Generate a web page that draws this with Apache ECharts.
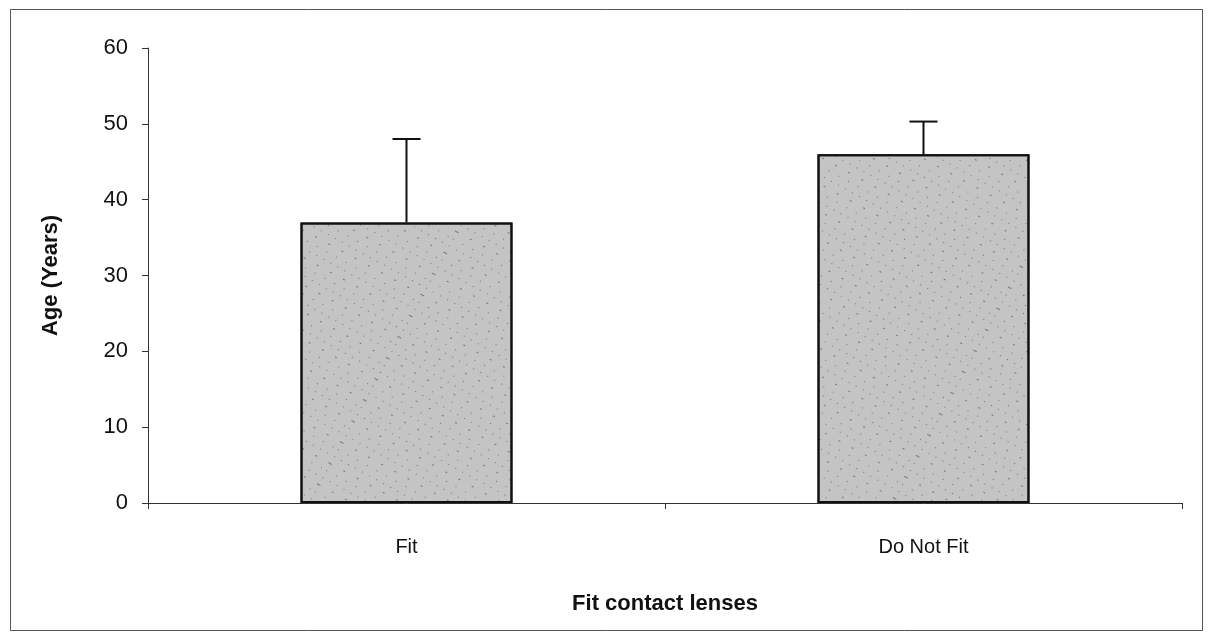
<!DOCTYPE html>
<html>
<head>
<meta charset="utf-8">
<script src="https://cdn.jsdelivr.net/npm/echarts@6/dist/echarts.min.js"></script>
<style>html,body{margin:0;padding:0;background:#fff;}#c{width:1210px;height:641px;}</style>
</head>
<body>
<div id="c"></div>
<script>
const categories = ['Fit', 'Do Not Fit'];
const meanAge = [37, 46];
const errorUp = [11, 4.3];
const yTicks = [0, 10, 20, 30, 40, 50, 60];

const chart = echarts.init(document.getElementById('c'));
const font = '"Liberation Sans", Arial, sans-serif';
const errData = categories.map((c, i) => [i, meanAge[i], meanAge[i] + errorUp[i]]);

chart.setOption({
  animation: false,
  backgroundColor: '#fff',
  graphic: [{
    type: 'rect', left: 8, top: 7, shape: {width: 1192, height: 621},
    style: {fill: 'none', stroke: '#555', lineWidth: 1}, silent: true, z: -1
  }],
  grid: {left: 148, right: 28, top: 48, bottom: 138},
  xAxis: {
    type: 'category', data: categories,
    name: 'Fit contact lenses', nameLocation: 'middle', nameGap: 90,
    nameTextStyle: {fontFamily: font, fontSize: 22, fontWeight: 'bold', color: '#111'},
    axisLine: {lineStyle: {color: '#333', width: 1}},
    axisTick: {show: true, alignWithLabel: false, length: 6, lineStyle: {color: '#333'}},
    axisLabel: {fontFamily: font, fontSize: 20, color: '#111', margin: 34}
  },
  yAxis: {
    type: 'value', min: yTicks[0], max: yTicks[yTicks.length - 1], interval: 10,
    name: 'Age (Years)', nameLocation: 'middle', nameGap: 86,
    nameTextStyle: {fontFamily: font, fontSize: 22, fontWeight: 'bold', color: '#111'},
    axisLine: {show: true, lineStyle: {color: '#333', width: 1}},
    axisTick: {show: true, length: 6, lineStyle: {color: '#333'}},
    splitLine: {show: false},
    axisLabel: {fontFamily: font, fontSize: 22, color: '#111', margin: 20}
  },
  series: [{
    type: 'bar', data: meanAge, barWidth: '41%',
    itemStyle: {
      color: '#c4c4c4', borderColor: '#111', borderWidth: 2,
      decal: {symbol: 'rect', symbolSize: 1, color: 'rgba(50,50,50,0.55)',
        dashArrayX: [[1, 10], [1, 7], [2, 13]], dashArrayY: [1, 7], rotation: 0.5}
    }
  }, {
    type: 'custom', data: errData, z: 5,
    renderItem: function (params, api) {
      const x = api.value(0);
      const p0 = api.coord([x, api.value(1)]);
      const p1 = api.coord([x, api.value(2)]);
      const cap = 14;
      const st = {stroke: '#111', lineWidth: 2};
      return {type: 'group', children: [
        {type: 'line', shape: {x1: p0[0], y1: p0[1], x2: p1[0], y2: p1[1]}, style: st},
        {type: 'line', shape: {x1: p1[0] - cap, y1: p1[1], x2: p1[0] + cap, y2: p1[1]}, style: st}
      ]};
    }
  }]
});
</script>
</body>
</html>
